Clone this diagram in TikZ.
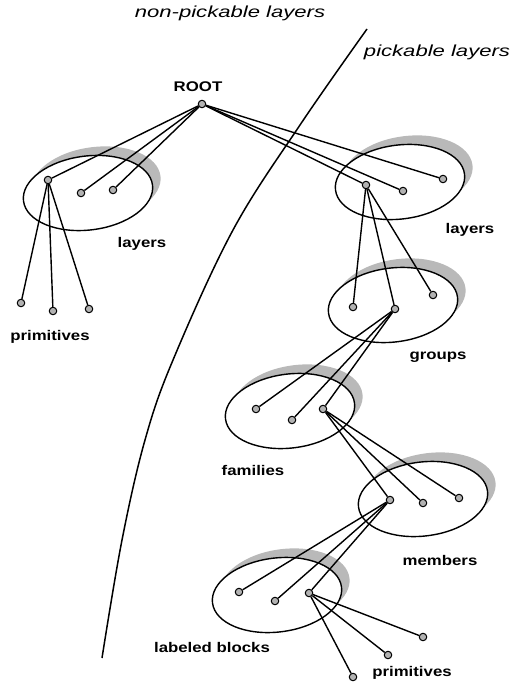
\documentclass[tikz,border=0pt]{standalone}
\usepackage{fontspec}
\newfontfamily\labelfont[FakeStretch=1.2]{Liberation Sans}
\newfontfamily\titlefont[FakeStretch=1.38]{Liberation Sans}
\newcommand\layerdisc[2]{%
  \begin{scope}[shift={(#1,#2)}, rotate=7]
    \fill[rim] (9,-8) ellipse [x radius=65, y radius=37];
    \draw[disc] (0,0) ellipse [x radius=65, y radius=37];
  \end{scope}}
\begin{document}
\begin{tikzpicture}[x=1pt, y=-1pt,
  dot/.style={circle, draw=black, fill=gray!60, line width=1pt, inner sep=0pt, minimum size=7.5pt},
  link/.style={line width=1.4pt, black},
  disc/.style={line width=1.4pt, fill=white},
  rim/.style={fill=gray!55},
  lbl/.style={font=\labelfont\bfseries\fontsize{14}{16}\selectfont, inner sep=0pt},
  ttl/.style={font=\titlefont\itshape\fontsize{16}{18}\selectfont, inner sep=0pt}]
\useasboundingbox (0,0) rectangle (514,684);

% boundary between the two kinds of layers
\draw[line width=1.5pt] plot[smooth, tension=0.6] coordinates
  {(367,29) (300,125) (233,230) (173,360) (145,440) (122,540) (102,658)};

\node[ttl] (tnp) at (230,13) {non-pickable layers};
\node[ttl] (tp) at (437,52) {pickable layers};

% discs of the hierarchy
\layerdisc{88}{193}
\layerdisc{400}{182}
\layerdisc{393}{305}
\layerdisc{290}{411}
\layerdisc{423}{499}
\layerdisc{277}{595}

% tree nodes
\node[dot] (root) at (202,104) {};
\node[dot] (la) at (48,180) {};
\node[dot] (lb) at (81,193) {};
\node[dot] (lc) at (113,190) {};
\node[dot] (pa) at (21,303) {};
\node[dot] (pb) at (53,311) {};
\node[dot] (pc) at (89,309) {};
\node[dot] (ra) at (366,185) {};
\node[dot] (rb) at (403,191) {};
\node[dot] (rc) at (443,179) {};
\node[dot] (ga) at (353,307) {};
\node[dot] (gb) at (395,309) {};
\node[dot] (gc) at (433,295) {};
\node[dot] (fa) at (256,409) {};
\node[dot] (fb) at (292,420) {};
\node[dot] (fc) at (323,409) {};
\node[dot] (ma) at (390,500) {};
\node[dot] (mb) at (423,503) {};
\node[dot] (mc) at (459,498) {};
\node[dot] (ba) at (239,592) {};
\node[dot] (bb) at (275,601) {};
\node[dot] (bc) at (309,593) {};
\node[dot] (qa) at (423,637) {};
\node[dot] (qb) at (388,655) {};
\node[dot] (qc) at (353,677) {};

% connectors
\foreach \t in {la,lb,lc,ra,rb,rc} \draw[link] (root) -- (\t);
\foreach \t in {pa,pb,pc} \draw[link] (la) -- (\t);
\foreach \t in {ga,gb,gc} \draw[link] (ra) -- (\t);
\foreach \t in {fa,fb,fc} \draw[link] (gb) -- (\t);
\foreach \t in {ma,mb,mc} \draw[link] (fc) -- (\t);
\foreach \t in {ba,bb,bc} \draw[link] (ma) -- (\t);
\foreach \t in {qa,qb,qc} \draw[link] (bc) -- (\t);

% labels
\node[lbl] (lroot) at (198,87) {ROOT};
\node[lbl] (llay) at (142,244) {layers};
\node[lbl] (lprl) at (50,337) {primitives};
\node[lbl] (lray) at (470,230) {layers};
\node[lbl] (lgrp) at (438,357) {groups};
\node[lbl] (lfam) at (253,470) {families};
\node[lbl] (lmem) at (440,560) {members};
\node[lbl] (lblk) at (212,647) {labeled blocks};
\node[lbl] (lprb) at (412,673) {primitives};
\end{tikzpicture}
\end{document}
